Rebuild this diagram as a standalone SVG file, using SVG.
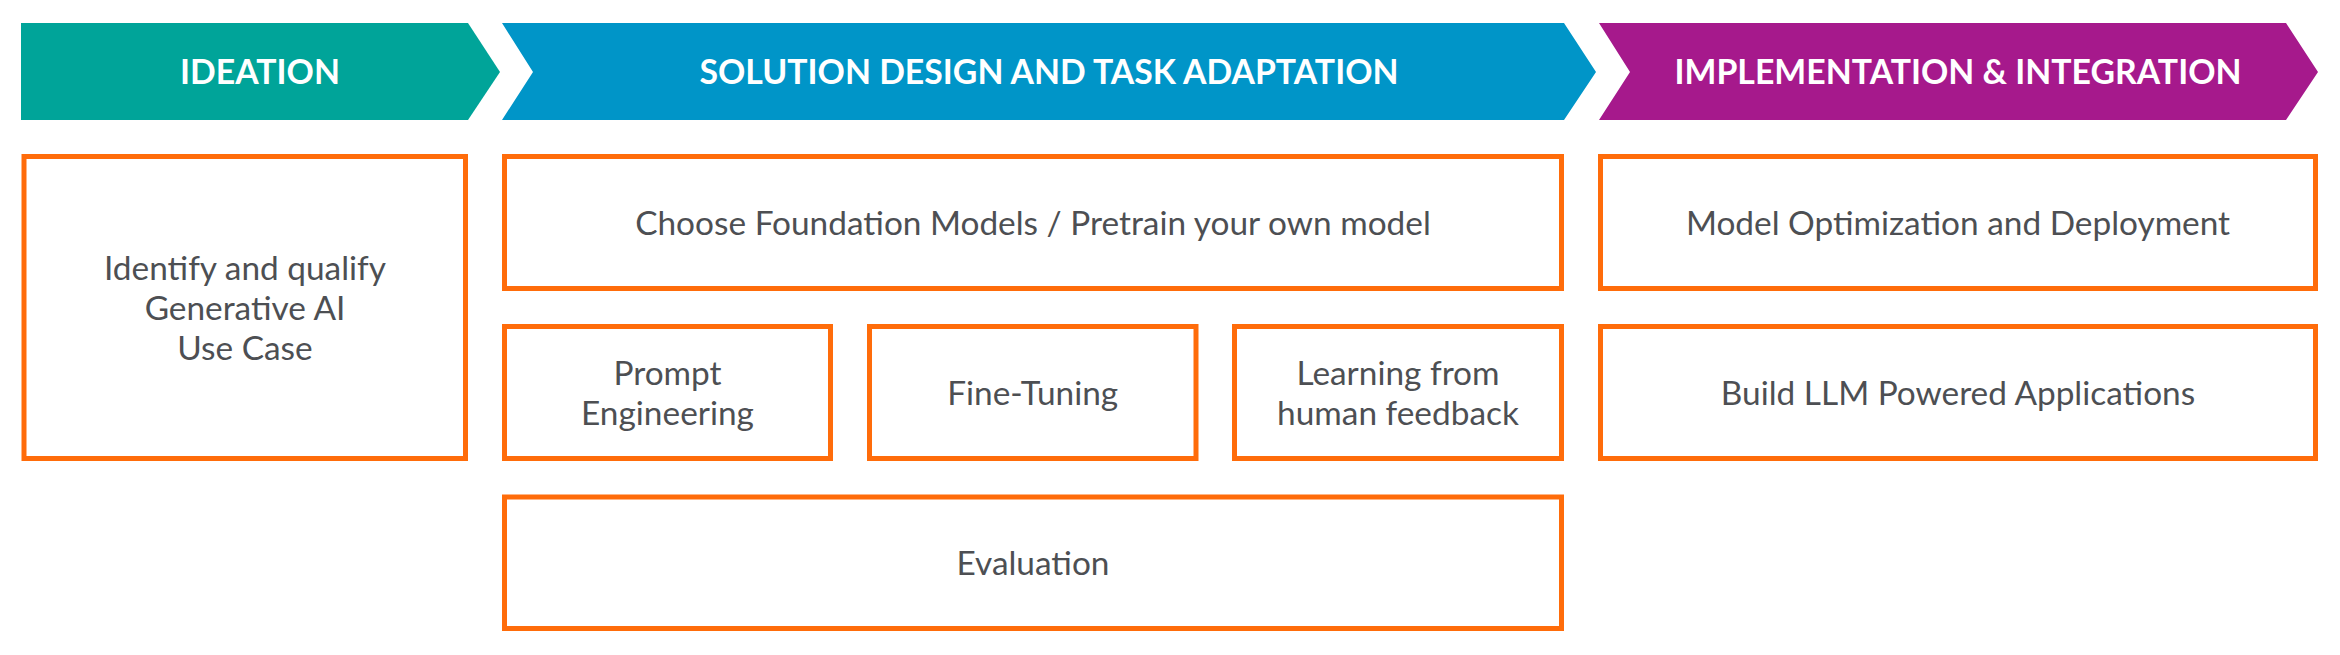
<svg xmlns="http://www.w3.org/2000/svg" width="2340" height="655" viewBox="0 0 2340 655">
<style>
.box{fill:#ffffff;stroke:#ff6c0a;stroke-width:5}
.t{font-family:Lato,"Open Sans","Liberation Sans",sans-serif;font-size:33.4px;fill:#4d4f53;text-anchor:middle}
.h{font-family:Lato,"Open Sans","Liberation Sans",sans-serif;font-size:33.8px;font-weight:bold;fill:#ffffff;text-anchor:middle}
</style>
<rect width="2340" height="655" fill="#ffffff"/>
<g id="banner-ideation">
<polygon points="21,23 468,23 500,72 468,120 21,120" fill="#00a499"/>
<text class="h" x="260" y="84">IDEATION</text>
</g>
<g id="banner-solution">
<polygon points="502,23 1564,23 1596,72 1564,120 502,120 533,72" fill="#0095c8"/>
<text class="h" x="1049" y="84">SOLUTION DESIGN AND TASK ADAPTATION</text>
</g>
<g id="banner-implementation">
<polygon points="1599,23 2286,23 2318,72 2286,120 1599,120 1630,72" fill="#a6198c"/>
<text class="h" x="1958" y="84">IMPLEMENTATION &amp; INTEGRATION</text>
</g>
<g id="ideation">
<rect class="box" x="24" y="156.5" width="441.5" height="302"/>
<text class="t" x="245" y="280">Identify and qualify</text>
<text class="t" x="245" y="320">Generative AI</text>
<text class="t" x="245" y="360">Use Case</text>
</g>
<g id="choose">
<rect class="box" x="504.5" y="156.5" width="1057" height="132"/>
<text class="t" x="1033" y="235">Choose Foundation Models / Pretrain your own model</text>
</g>
<g id="prompt">
<rect class="box" x="504.5" y="326.5" width="326" height="132"/>
<text class="t" x="667.5" y="385">Prompt</text>
<text class="t" x="667.5" y="425">Engineering</text>
</g>
<g id="finetuning">
<rect class="box" x="869.5" y="326.5" width="326.5" height="132"/>
<text class="t" x="1032.75" y="405">Fine-Tuning</text>
</g>
<g id="rlhf">
<rect class="box" x="1234.5" y="326.5" width="327" height="132"/>
<text class="t" x="1398" y="385">Learning from</text>
<text class="t" x="1398" y="425">human feedback</text>
</g>
<g id="evaluation">
<rect class="box" x="504.5" y="497" width="1057" height="131.5"/>
<text class="t" x="1033" y="575">Evaluation</text>
</g>
<g id="optimization">
<rect class="box" x="1600.5" y="156.5" width="715" height="132"/>
<text class="t" x="1958" y="235">Model Optimization and Deployment</text>
</g>
<g id="build">
<rect class="box" x="1600.5" y="326.5" width="715" height="132"/>
<text class="t" x="1958" y="405">Build LLM Powered Applications</text>
</g>
<g id="connectors"/>
</svg>
